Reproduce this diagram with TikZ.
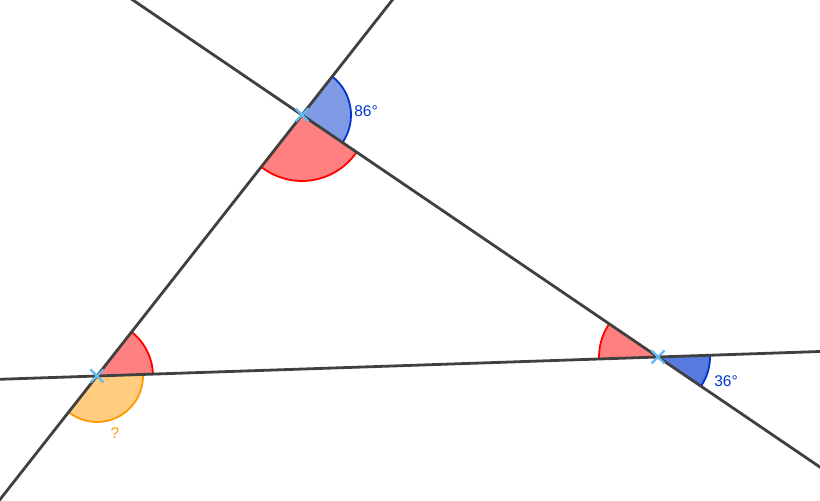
\documentclass[tikz,border=0pt]{standalone}
\usepackage{fontspec}
\setmainfont{Liberation Sans}
\usetikzlibrary{calc}
\definecolor{lineg}{RGB}{64,64,64}
\definecolor{bluefillA}{RGB}{127,155,230}
\definecolor{bluefillC}{RGB}{88,122,222}
\definecolor{bluestroke}{RGB}{0,51,204}
\definecolor{redfill}{RGB}{255,128,128}
\definecolor{redstroke}{RGB}{255,0,0}
\definecolor{orfill}{RGB}{255,204,128}
\definecolor{orstroke}{RGB}{255,153,0}
\definecolor{ptcol}{RGB}{100,185,240}
\newcommand\angsector[7]{% point, start, end, radius, fill, stroke
  \fill[#5] (#1) -- ([shift={(#2:#4)}]#1) arc[start angle=#2, end angle=#3, radius=#4] -- cycle;
  \draw[#6, line width=1.8pt] ([shift={(#2:#4)}]#1) arc[start angle=#2, end angle=#3, radius=#4];
}
\tikzset{
  gline/.style={draw=lineg, line width=2.8pt},
  ptmark/.style={draw=ptcol, line width=2.4pt},
  lbl/.style={font=\fontsize{15.5}{15.5}\selectfont, inner sep=0pt}
}
\begin{document}
\begin{tikzpicture}[x=1pt,y=1pt]
\useasboundingbox (0,0) rectangle (820,501);
\clip (0,0) rectangle (820,501);
\coordinate (A) at (302,386);
\coordinate (B) at (97,125);
\coordinate (C) at (658,144);
% angle sectors
\angsector{A}{-34.21}{51.85}{49}{bluefillA}{bluestroke}{}
\angsector{A}{-128.15}{-34.21}{66}{redfill}{redstroke}{}
\angsector{B}{1.94}{51.85}{56}{redfill}{redstroke}{}
\angsector{B}{-128.15}{1.94}{46}{orfill}{orstroke}{}
\angsector{C}{145.79}{181.94}{59}{redfill}{redstroke}{}
\angsector{C}{-34.21}{1.94}{52}{bluefillC}{bluestroke}{}
% lines
\draw[gline] ($(A)!-2!(C)$) -- ($(C)!-2!(A)$);
\draw[gline] ($(A)!-3!(B)$) -- ($(B)!-3!(A)$);
\draw[gline] ($(B)!-2!(C)$) -- ($(C)!-2!(B)$);
% point markers
\foreach \p in {A,B,C}{
  \draw[ptmark] ($(\p)+(-6.5,-6.5)$) -- ($(\p)+(6.5,6.5)$);
  \draw[ptmark] ($(\p)+(-6.5,6.5)$) -- ($(\p)+(6.5,-6.5)$);
}
% labels
\node[lbl, text=bluestroke] (l86) at (366,390) {86°};
\node[lbl, text=bluestroke] (l36) at (726,120) {36°};
\node[lbl, text=orstroke] (lq) at (115,68) {?};
\end{tikzpicture}
\end{document}
